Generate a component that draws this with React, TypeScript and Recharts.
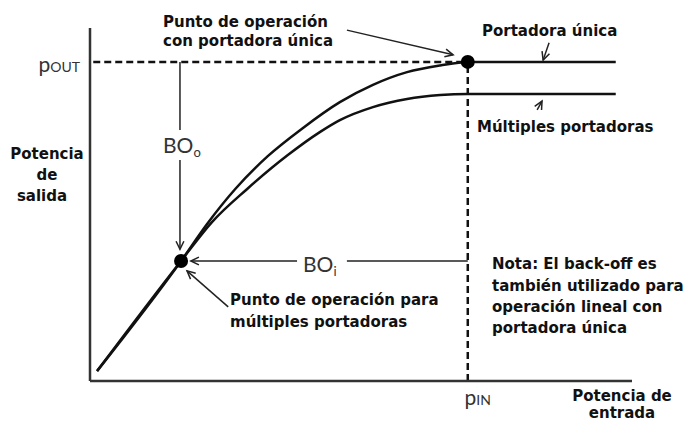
import {
  ComposedChart,
  Line,
  XAxis,
  YAxis,
  ReferenceLine,
  ReferenceDot,
} from "recharts";

// potencia de entrada / salida (unidades relativas 0-100)
const singleIn = [1.3, 16.8, 21.6, 26.8, 32.8, 39.3, 46.1, 52.2, 58.5, 64.6, 69.7, 97.0];
const singleOut = [2.8, 34.0, 44.5, 54.4, 63.7, 71.7, 79.0, 83.9, 87.5, 89.4, 90.4, 90.4];
const multiIn = [1.3, 16.8, 22.5, 29.0, 36.5, 42.4, 46.1, 52.2, 58.5, 64.6, 69.7, 97.0];
const multiOut = [2.8, 34.0, 45.0, 54.4, 64.0, 70.5, 73.9, 77.6, 79.9, 81.0, 81.3, 81.3];

const pIn = 69.7;
const pOut = 90.4;
const multiOp = { x: 16.8, y: 34.0 };

const singleData = singleIn.map((v, i) => ({ pin: v, pout: singleOut[i] }));
const multiData = multiIn.map((v, i) => ({ pin: v, pout: multiOut[i] }));

const bold = {
  fontFamily: "DejaVu Sans",
  fontWeight: 700,
  fontSize: 15,
  fill: "#111",
};
const light = { fontFamily: "Lato", fill: "#333" };

const arrow = (head: boolean) => (props: any) => {
  const { x1, y1, x2, y2 } = props;
  const a = Math.atan2(y2 - y1, x2 - x1);
  const len = 9;
  const s = 0.45;
  const p1 = `${x2 - len * Math.cos(a - s)},${y2 - len * Math.sin(a - s)}`;
  const p2 = `${x2 - len * Math.cos(a + s)},${y2 - len * Math.sin(a + s)}`;
  return (
    <g>
      <line x1={x1} y1={y1} x2={x2} y2={y2} stroke="#222" strokeWidth={1.5} />
      {head && (
        <polyline
          points={`${p1} ${x2},${y2} ${p2}`}
          fill="none"
          stroke="#222"
          strokeWidth={1.5}
        />
      )}
    </g>
  );
};

const POutTick = ({ y }: any) => (
  <text x={80} y={y + 10} textAnchor="end" style={light}>
    <tspan fontSize={21}>p</tspan>
    <tspan fontSize={14}>OUT</tspan>
  </text>
);

const PInTick = ({ x }: any) => (
  <text x={x + 10} y={405} textAnchor="middle" style={light}>
    <tspan fontSize={21}>p</tspan>
    <tspan fontSize={14}>IN</tspan>
  </text>
);

export default function App() {
  return (
    <div style={{ position: "absolute", left: 0, top: 0, background: "#fff" }}>
      <ComposedChart
        width={687}
        height={423}
        margin={{ top: 28, right: 55, bottom: 0, left: 0 }}
      >
        <XAxis
          dataKey="pin"
          type="number"
          domain={[0, 100]}
          ticks={[pIn]}
          tick={<PInTick />}
          tickLine={false}
          height={42}
          axisLine={{ stroke: "#333", strokeWidth: 2.5 }}
        />
        <YAxis
          type="number"
          domain={[0, 100]}
          ticks={[pOut]}
          tick={<POutTick />}
          tickLine={false}
          width={90}
          axisLine={{ stroke: "#333", strokeWidth: 2.5 }}
        />

        <ReferenceLine
          segment={[{ x: 0.6, y: pOut }, { x: pIn, y: pOut }]}
          stroke="#111"
          strokeWidth={2.5}
          strokeDasharray="7 4"
        />
        <ReferenceLine
          segment={[{ x: pIn, y: 0 }, { x: pIn, y: pOut }]}
          stroke="#111"
          strokeWidth={2.5}
          strokeDasharray="7 4"
        />

        <Line
          data={singleData}
          dataKey="pout"
          type="monotone"
          dot={false}
          stroke="#111"
          strokeWidth={2.5}
          isAnimationActive={false}
        />
        <Line
          data={multiData}
          dataKey="pout"
          type="monotone"
          dot={false}
          stroke="#111"
          strokeWidth={2.5}
          isAnimationActive={false}
        />

        {/* BOo */}
        <ReferenceLine segment={[{ x: 16.6, y: pOut }, { x: 16.6, y: 71.1 }]} shape={arrow(false)} />
        <ReferenceLine segment={[{ x: 16.6, y: 62.6 }, { x: 16.6, y: 37.3 }]} shape={arrow(true)} />
        {/* BOi */}
        <ReferenceLine segment={[{ x: 38.2, y: multiOp.y }, { x: 18.6, y: multiOp.y }]} shape={arrow(true)} />
        <ReferenceLine segment={[{ x: 47.4, y: multiOp.y }, { x: pIn, y: multiOp.y }]} shape={arrow(false)} />
        {/* flechas de anotación */}
        <ReferenceLine segment={[{ x: 47.4, y: 99.4 }, { x: 67.0, y: 92.4 }]} shape={arrow(true)} />
        <ReferenceLine segment={[{ x: 84.7, y: 95.8 }, { x: 83.6, y: 90.9 }]} shape={arrow(true)} />
        <ReferenceLine segment={[{ x: 82.5, y: 76.8 }, { x: 83.4, y: 79.3 }]} shape={arrow(true)} />
        <ReferenceLine segment={[{ x: 25.5, y: 21.0 }, { x: 17.9, y: 31.2 }]} shape={arrow(true)} />

        <ReferenceDot x={pIn} y={pOut} r={7} fill="#000" stroke="none" />
        <ReferenceDot x={multiOp.x} y={multiOp.y} r={7} fill="#000" stroke="none" />

        <text x={163} y={27} style={bold}>Punto de operación</text>
        <text x={163} y={46} style={bold}>con portadora única</text>
        <text x={482} y={36} style={bold}>Portadora única</text>
        <text x={477} y={132} style={bold}>Múltiples portadoras</text>

        <text x={47} y={159} textAnchor="middle" style={bold}>Potencia</text>
        <text x={47} y={180} textAnchor="middle" style={bold}>de</text>
        <text x={42} y={201} textAnchor="middle" style={bold}>salida</text>

        <text x={230} y={305} style={bold}>Punto de operación para</text>
        <text x={230} y={327} style={bold}>múltiples portadoras</text>

        <text x={492} y={269} style={bold}>Nota: El back-off es</text>
        <text x={492} y={291} style={bold}>también utilizado para</text>
        <text x={492} y={312} style={bold}>operación lineal con</text>
        <text x={492} y={333} style={bold}>portadora única</text>

        <text x={622} y={401} textAnchor="middle" style={bold}>Potencia de</text>
        <text x={622} y={418} textAnchor="middle" style={bold}>entrada</text>

        <text x={163} y={153} style={light}>
          <tspan fontSize={21}>BO</tspan>
          <tspan fontSize={13} dy={4}>o</tspan>
        </text>
        <text x={303} y={272} style={light}>
          <tspan fontSize={21}>BO</tspan>
          <tspan fontSize={13} dy={4}>i</tspan>
        </text>
      </ComposedChart>
    </div>
  );
}
